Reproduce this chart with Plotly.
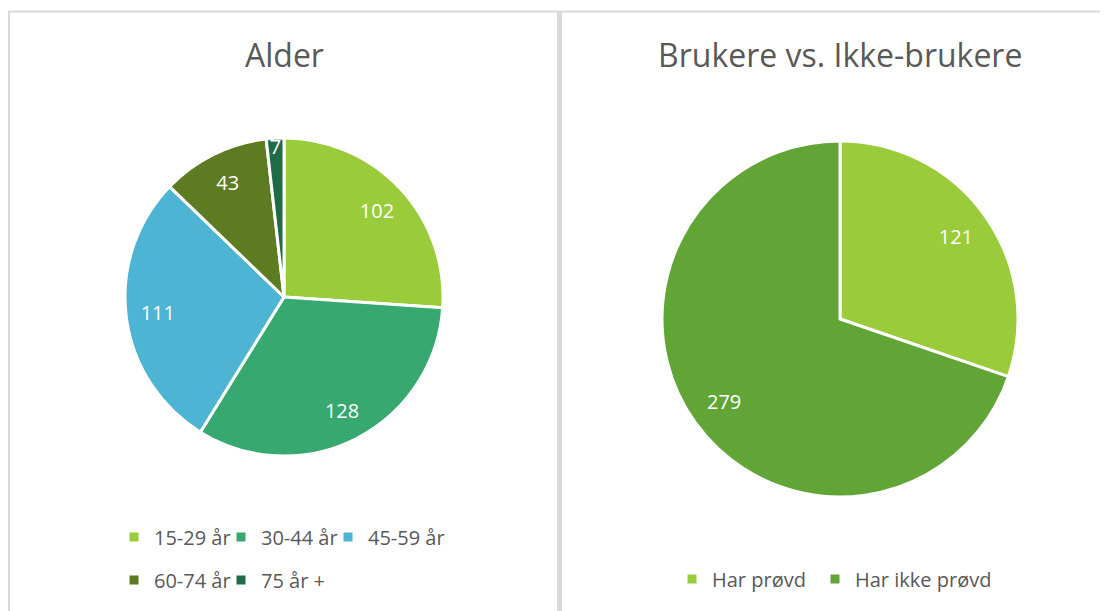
import plotly.graph_objects as go

# ---- data ----
age_labels = ["15-29 år", "30-44 år", "45-59 år", "60-74 år", "75 år +"]
age_values = [102, 128, 111, 43, 7]
age_colors = ["#9ACB3A", "#37A86F", "#4DB4D3", "#5D7B20", "#1F6B46"]

user_labels = ["Har prøvd", "Har ikke prøvd"]
user_values = [121, 279]
user_colors = ["#9ACB3A", "#62A537"]

titles = ["Alder", "Brukere vs. Ikke-brukere"]

FONT = "Open Sans"
GREY = "#595959"
# page body has an 8px margin; figure sized to fill the rest of the window
OFF = 8
W, H = 1108 - OFF, 611 - OFF


def wx(v):
    """window x pixel -> paper x"""
    return (v - OFF) / W


def wy(v):
    """window y pixel -> paper y"""
    return 1 - (v - OFF) / H


fig = go.Figure()

pie_specs = [
    (age_labels, age_values, age_colors, dict(x=[wx(125), wx(443)], y=[wy(456), wy(138)])),
    (user_labels, user_values, user_colors, dict(x=[wx(662), wx(1018)], y=[wy(497), wy(141)])),
]

for labels, values, colors, dom in pie_specs:
    # coloured pie (no text)
    fig.add_trace(go.Pie(
        labels=labels, values=values, sort=False,
        direction="clockwise", rotation=0,
        marker=dict(colors=colors, line=dict(color="white", width=3)),
        textinfo="none", domain=dom, showlegend=False, hoverinfo="label+value",
    ))
    # transparent ring on top carrying the value labels (places them ~0.8 r)
    fig.add_trace(go.Pie(
        labels=labels, values=values, sort=False,
        direction="clockwise", rotation=0, hole=0.6,
        marker=dict(colors=["rgba(0,0,0,0)"] * len(values), line=dict(width=0)),
        textinfo="value", textposition="inside", insidetextorientation="horizontal",
        textfont=dict(family=FONT, size=20, color="white"),
        domain=dom, showlegend=False, hoverinfo="skip",
    ))

# Legend entries: one legend per entry so each can be placed like the original
# (text start x, text centre y) in window pixels
age_legend_pos = [(151, 537), (258, 537), (365, 537), (151, 580), (258, 580)]
user_legend_pos = [(709, 579), (852, 579)]

legend_layout = {}
idx = 1
for labs, cols, poss in [(age_labels, age_colors, age_legend_pos),
                         (user_labels, user_colors, user_legend_pos)]:
    for lab, col, (tx, ty) in zip(labs, cols, poss):
        key = "legend" if idx == 1 else f"legend{idx}"
        fig.add_trace(go.Scatter(x=[None], y=[None], mode="markers", name=lab,
                                 marker=dict(symbol="square", size=9, color=col),
                                 legend=key, showlegend=True, hoverinfo="skip"))
        legend_layout[key] = dict(
            orientation="h", xanchor="left", yanchor="middle",
            x=wx(tx - 37), y=wy(ty),
            font=dict(family=FONT, size=20, color=GREY),
            bgcolor="rgba(0,0,0,0)", itemwidth=30,
        )
        idx += 1

# Titles
annotations = [
    dict(text=titles[0], x=wx(284), y=wy(55), xref="paper", yref="paper",
         showarrow=False, font=dict(family=FONT, size=32, color=GREY),
         xanchor="center", yanchor="middle"),
    dict(text=titles[1], x=wx(840), y=wy(55), xref="paper", yref="paper",
         showarrow=False, font=dict(family=FONT, size=32, color=GREY),
         xanchor="center", yanchor="middle"),
]

border = "#D9D9D9"
shapes = [
    dict(type="line", xref="paper", yref="paper", x0=wx(8), x1=1, y0=wy(11.5), y1=wy(11.5),
         line=dict(color=border, width=2)),
    dict(type="line", xref="paper", yref="paper", x0=wx(9), x1=wx(9), y0=wy(11), y1=0,
         line=dict(color=border, width=2)),
    dict(type="line", xref="paper", yref="paper", x0=wx(559.5), x1=wx(559.5), y0=wy(11), y1=0,
         line=dict(color=border, width=5)),
]

fig.update_layout(
    width=W, height=H,
    margin=dict(l=0, r=0, t=0, b=0),
    paper_bgcolor="white", plot_bgcolor="white",
    xaxis=dict(visible=False), yaxis=dict(visible=False),
    annotations=annotations, shapes=shapes,
    uniformtext=dict(minsize=20, mode="show"),
    **legend_layout,
)

fig.write_html("out.html")
